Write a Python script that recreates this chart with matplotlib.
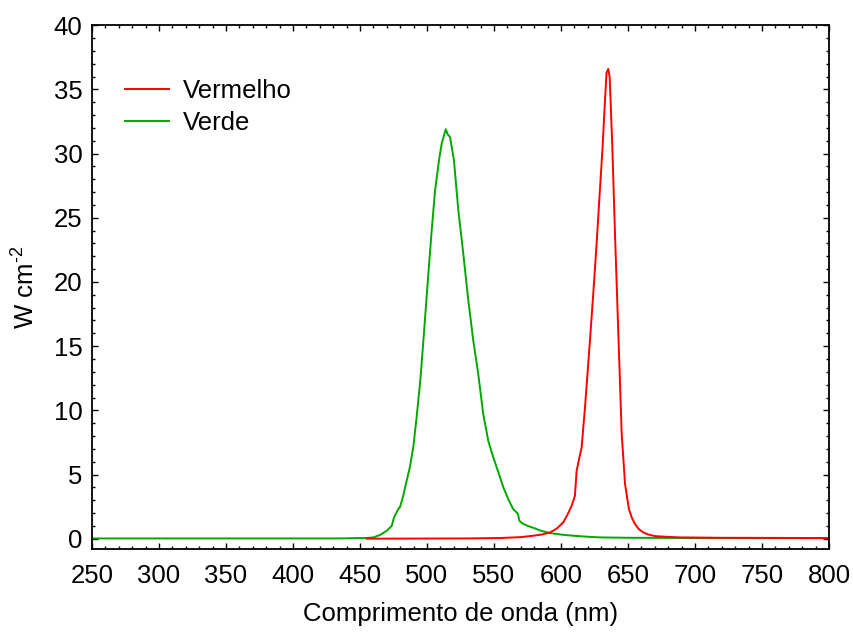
import numpy as np
import matplotlib
matplotlib.use("Agg")
import matplotlib.pyplot as plt
from matplotlib.ticker import MultipleLocator

plt.rcParams["font.family"] = ["Liberation Sans", "DejaVu Sans"]
plt.rcParams["mathtext.default"] = "regular"

# espectro verde (nm, W cm-2)
verde_nm = [250, 400, 435, 450, 455, 460, 465, 470, 473.7, 475.4, 478.6, 480,
            482.3, 484.8, 487.3, 490, 492.3, 495, 497.3, 501, 503.5, 506, 509,
            511, 514, 515.5, 517.2, 520.1, 523.4, 527.1, 530.8, 534.6, 538.3,
            542, 545.8, 549, 552, 557, 561, 564.4, 567.8, 569, 571, 575, 579.3,
            585, 591.8, 600, 609, 620, 629, 650, 700, 800]
verde_w = [0.02, 0.02, 0.02, 0.05, 0.05, 0.1, 0.29, 0.62, 1.0, 1.66, 2.3, 2.5,
           3.35, 4.5, 5.6, 7.3, 9.5, 12.3, 15.4, 20.6, 24.0, 27.1, 29.5,
           30.8, 31.9, 31.5, 31.3, 29.5, 25.6, 22.2, 18.6, 15.4, 12.8,
           9.7, 7.6, 6.5, 5.56, 4.0, 3.0, 2.3, 1.95, 1.4, 1.2, 1.0, 0.85,
           0.62, 0.44, 0.32, 0.23, 0.15, 0.1, 0.07, 0.05, 0.04]

# espectro vermelho
verm_nm = [455, 530, 554, 570, 579.3, 586, 591.8, 597, 601.7, 605, 608, 610.4,
           611.7, 613.5, 615.4, 617.9, 621.6, 624.1, 626.6, 628.6, 631.1, 632.5,
           634, 635.3, 636.3, 637, 638.3, 640.3, 642.8, 645.3, 647.8, 650.7,
           653, 655.2, 658, 661.4, 665, 670.1, 680, 688.8, 720, 800]
verm_w = [0.0, 0.02, 0.05, 0.12, 0.23, 0.33, 0.48, 0.8, 1.27, 1.9, 2.57, 3.35,
          5.3, 6.2, 7.1, 10.2, 15.4, 19.1, 23.0, 26.4, 30.6, 33.5,
          36.3, 36.6, 36.0, 34.2, 30.6, 23.8, 16.0, 8.2, 4.26, 2.3,
          1.6, 1.15, 0.75, 0.49, 0.33, 0.2, 0.14, 0.1, 0.07, 0.05]

fs = 18.5

fig = plt.figure(figsize=(8.54, 6.33), dpi=100)
ax = fig.add_axes([0.1077, 0.1332, 0.863, 0.8268])

l_verde, = ax.plot(verde_nm, verde_w, color="#00a800", lw=1.4, label="Verde")
l_verm, = ax.plot(verm_nm, verm_w, color="#ff0000", lw=1.4, label="Vermelho")

ax.set_xlim(250, 800)
ax.set_ylim(-0.78, 40)
ax.xaxis.set_major_locator(MultipleLocator(50))
ax.xaxis.set_minor_locator(MultipleLocator(10))
ax.yaxis.set_major_locator(MultipleLocator(5))
ax.yaxis.set_minor_locator(MultipleLocator(1))
ax.tick_params(which="both", direction="in", top=True, right=True,
               labelsize=fs, width=1.0)
ax.tick_params(which="major", length=4.5)
ax.tick_params(axis="x", which="major", pad=11)
ax.tick_params(axis="y", which="major", pad=7)
ax.tick_params(which="minor", length=2.2)
for s in ax.spines.values():
    s.set_linewidth(1.3)

ax.set_xlabel("Comprimento de onda (nm)", fontsize=fs, labelpad=10)
ax.set_ylabel("W cm$^{\u20102}$", fontsize=fs, labelpad=10)

ax.legend([l_verm, l_verde], ["Vermelho", "Verde"], loc="upper left",
          bbox_to_anchor=(0.045, 0.897), frameon=False, fontsize=fs,
          handlelength=1.7, handletextpad=0.55, labelspacing=0.3,
          borderpad=0, borderaxespad=0)

fig.savefig("out.png", dpi=100)
